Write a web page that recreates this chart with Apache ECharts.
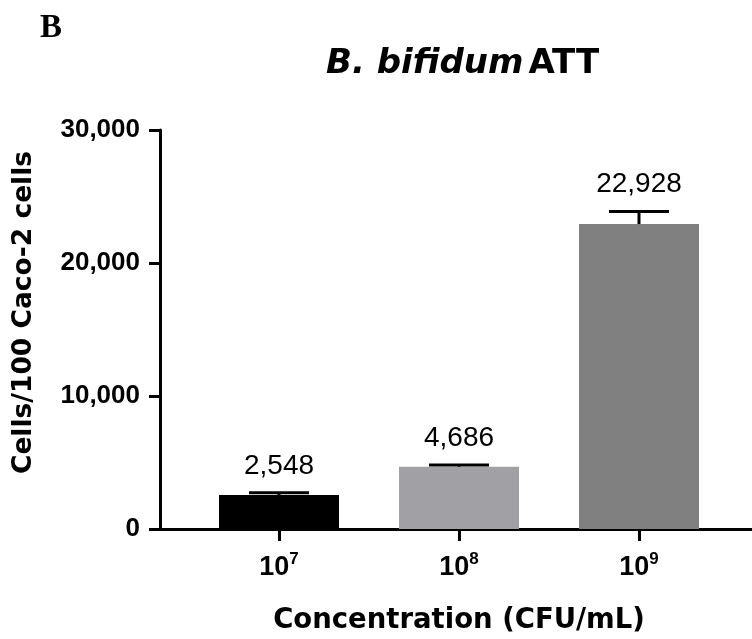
<!DOCTYPE html>
<html>
<head>
<meta charset="utf-8">
<script src="https://cdn.jsdelivr.net/npm/echarts@6/dist/echarts.min.js"></script>
<style>
html,body{margin:0;padding:0;background:#fff;}
#chart{width:752px;height:639px;}
</style>
</head>
<body>
<div id="chart"></div>
<script>
// ---- data ----
const exponents = ['7', '8', '9'];          // concentration 10^x CFU/mL
const means = [2548, 4686, 22928];          // cells / 100 Caco-2 cells
const errors = [170, 130, 950];             // upper error bars
const barColors = ['#000000', '#a1a1a5', '#808080'];
const yTicks = [0, 10000, 20000, 30000];

const fmt = v => Number(v).toLocaleString('en-US');

const chart = echarts.init(document.getElementById('chart'));
const option = {
  backgroundColor: '#fff',
  animation: false,
  title: {
    text: '{i|B. bifidum} {n|ATT}',
    left: 321,
    top: 42,
    textStyle: {
      rich: {
        i: { fontFamily: 'DejaVu Sans', fontWeight: 'bold', fontStyle: 'italic', fontSize: 34, color: '#000' },
        n: { fontFamily: 'DejaVu Sans', fontWeight: 'bold', fontSize: 34, color: '#000' }
      }
    }
  },
  graphic: [{
    type: 'text', left: 40, top: 12,
    style: { text: 'B', font: 'bold 33px "Liberation Serif"', fill: '#000' }
  }],
  grid: [
    { left: 160, right: 0, top: 130, bottom: 110, containLabel: false, outerBoundsMode: 'none' },
    { left: 189, width: 540, top: 130, bottom: 110, containLabel: false, outerBoundsMode: 'none' }
  ],
  xAxis: [
    {
      gridIndex: 0, type: 'category', data: [''],
      axisLine: { lineStyle: { color: '#000', width: 3 } },
      axisTick: { show: false }, axisLabel: { show: false }, splitLine: { show: false }
    },
    {
      gridIndex: 1, type: 'category', data: exponents,
      axisLine: { show: false },
      axisTick: { show: true, alignWithLabel: true, length: 12, lineStyle: { color: '#000', width: 3 } },
      axisLabel: {
        margin: 22,
        formatter: v => '{b|10}{s|' + v + '}',
        rich: {
          b: { fontFamily: 'Liberation Sans', fontWeight: 'bold', fontSize: 27, color: '#000', lineHeight: 30, verticalAlign: 'bottom' },
          s: { fontFamily: 'Liberation Sans', fontWeight: 'bold', fontSize: 17, color: '#000', lineHeight: 30, verticalAlign: 'top', padding: [0, 0, 14, 0] }
        }
      },
      name: 'Concentration (CFU/mL)',
      nameLocation: 'middle',
      nameGap: 78,
      nameTextStyle: { fontFamily: 'DejaVu Sans', fontWeight: 'bold', fontSize: 27.5, color: '#000' }
    }
  ],
  yAxis: [
    {
      gridIndex: 0, type: 'value', min: 0, max: 30000, interval: 10000,
      axisLine: { show: true, lineStyle: { color: '#000', width: 3 } },
      axisTick: { show: true, length: 11, lineStyle: { color: '#000', width: 3 } },
      splitLine: { show: false },
      axisLabel: {
        margin: 20,
        formatter: v => yTicks.includes(v) ? fmt(v) : '',
        fontFamily: 'Liberation Sans', fontWeight: 'bold', fontSize: 26, color: '#000'
      },
      name: 'Cells/100 Caco-2 cells',
      nameLocation: 'middle',
      nameGap: 122,
      nameTextStyle: { fontFamily: 'DejaVu Sans', fontWeight: 'bold', fontSize: 26.5, color: '#000', padding: [0, 0, 0, 34] }
    },
    {
      gridIndex: 1, type: 'value', min: 0, max: 30000, interval: 10000, show: false
    }
  ],
  series: [
    {
      type: 'bar', xAxisIndex: 1, yAxisIndex: 1,
      barWidth: 120,
      data: means.map((v, i) => ({ value: v, itemStyle: { color: barColors[i] } })),
      z: 2
    },
    {
      type: 'custom', xAxisIndex: 1, yAxisIndex: 1, z: 5,
      data: means.map((v, i) => [i, v, errors[i]]),
      renderItem: function (params, api) {
        const x = api.value(0), v = api.value(1), e = api.value(2);
        const base = api.coord([x, v]);
        const top = api.coord([x, v + e]);
        const half = api.size([1, 0])[0] / 6;
        const ls = { stroke: '#000', lineWidth: 3 };
        return {
          type: 'group',
          children: [
            { type: 'line', shape: { x1: base[0], y1: base[1], x2: top[0], y2: top[1] }, style: ls },
            { type: 'line', shape: { x1: top[0] - half, y1: top[1], x2: top[0] + half, y2: top[1] }, style: ls },
            { type: 'text', style: { text: fmt(v), x: top[0], y: top[1] - 13, align: 'center', verticalAlign: 'bottom',
              font: '28px "Liberation Sans"', fill: '#000' } }
          ]
        };
      }
    }
  ]
};
chart.setOption(option);
</script>
</body>
</html>
